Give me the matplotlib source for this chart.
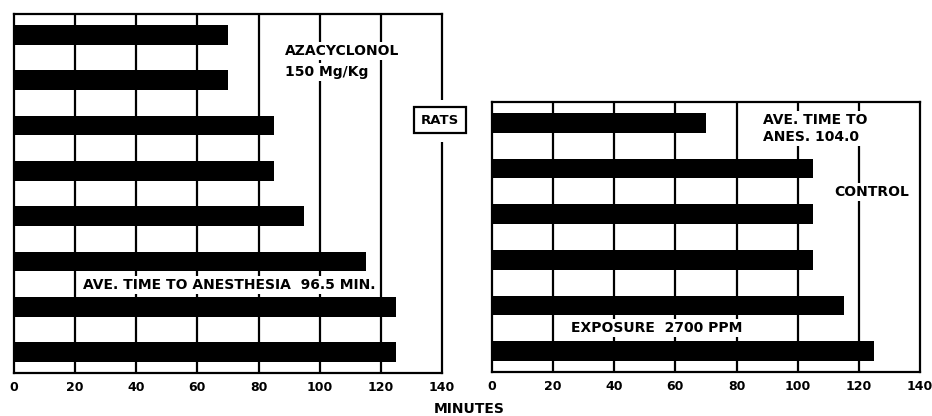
import matplotlib
matplotlib.use("Agg")
import matplotlib.pyplot as plt
from matplotlib.patches import Rectangle

# Time to anesthesia (minutes) for individual rats
azacyclonol_minutes = [70, 70, 85, 85, 95, 115, 125, 125]
control_minutes = [70, 105, 105, 105, 115, 125]
x_ticks = [0, 20, 40, 60, 80, 100, 120, 140]
x_tick_labels = ["0", "20", "40", "60", "80", "100", "120", "140"]

W, H = 932, 416
fig = plt.figure(figsize=(W / 100, H / 100), dpi=100)
fig.patch.set_facecolor("white")

FONT = dict(family="DejaVu Sans", fontweight="bold")
LW = 1.6
FS = 10


def px_axes(x0, y0, x1, y1):
    return fig.add_axes([x0 / W, 1 - y1 / H, (x1 - x0) / W, (y1 - y0) / H])


def style(ax, values):
    n = len(values)
    ax.barh(range(n), values, height=0.43, color="black", zorder=3)
    ax.set_xlim(0, 140)
    ax.set_ylim(n - 1 + 0.46, -0.46)
    ax.set_yticks([])
    ax.set_xticks(x_ticks)
    ax.set_xticklabels(x_tick_labels, fontsize=9, **FONT)
    ax.tick_params(axis="x", length=0, pad=6)
    for v in x_ticks[1:-1]:
        ax.axvline(v, color="black", lw=LW, zorder=1)
    for s in ax.spines.values():
        s.set_linewidth(LW)
        s.set_zorder(4)


TXT_BOX = dict(facecolor="white", edgecolor="none", pad=1.5)

# Left panel: azacyclonol-treated rats
axl = px_axes(14, 14, 442, 373)
style(axl, azacyclonol_minutes)
axl.text(88.5, 0.35, "AZACYCLONOL", fontsize=FS, va="center", ha="left",
         bbox=TXT_BOX, zorder=5, **FONT)
axl.text(88.5, 0.82, "150 Mg/Kg", fontsize=FS, va="center", ha="left",
         bbox=TXT_BOX, zorder=5, **FONT)
axl.text(22.5, 5.51, "AVE. TIME TO ANESTHESIA  96.5 MIN.", fontsize=FS,
         va="center", ha="left", bbox=TXT_BOX, zorder=5, **FONT)

# Right panel: control rats
axr = px_axes(492, 102, 920, 372)
style(axr, control_minutes)
axr.text(88.5, -0.07, "AVE. TIME TO", fontsize=FS, va="center", ha="left",
         bbox=TXT_BOX, zorder=5, **FONT)
axr.text(88.5, 0.31, "ANES. 104.0", fontsize=FS, va="center", ha="left",
         bbox=TXT_BOX, zorder=5, **FONT)
axr.text(112, 1.52, "CONTROL", fontsize=FS, va="center", ha="left",
         bbox=TXT_BOX, zorder=5, **FONT)
axr.text(26, 4.49, "EXPOSURE  2700 PPM", fontsize=FS, va="center", ha="left",
         bbox=TXT_BOX, zorder=5, **FONT)

# Gap in the left panel's frame around the species label
fig.add_artist(Rectangle((430 / W, 1 - 142 / H), 24 / W, 42 / H,
                         transform=fig.transFigure, facecolor="white",
                         edgecolor="none", zorder=10))
fig.text(440 / W, 1 - 120 / H, "RATS", fontsize=9.5, ha="center", va="center",
         zorder=11, bbox=dict(boxstyle="square,pad=0.5", facecolor="white",
                              edgecolor="black", linewidth=LW), **FONT)

fig.text(469 / W, 1 - 409 / H, "MINUTES", fontsize=10, ha="center",
         va="center", **FONT)

fig.savefig("out.png", dpi=100, facecolor="white")
